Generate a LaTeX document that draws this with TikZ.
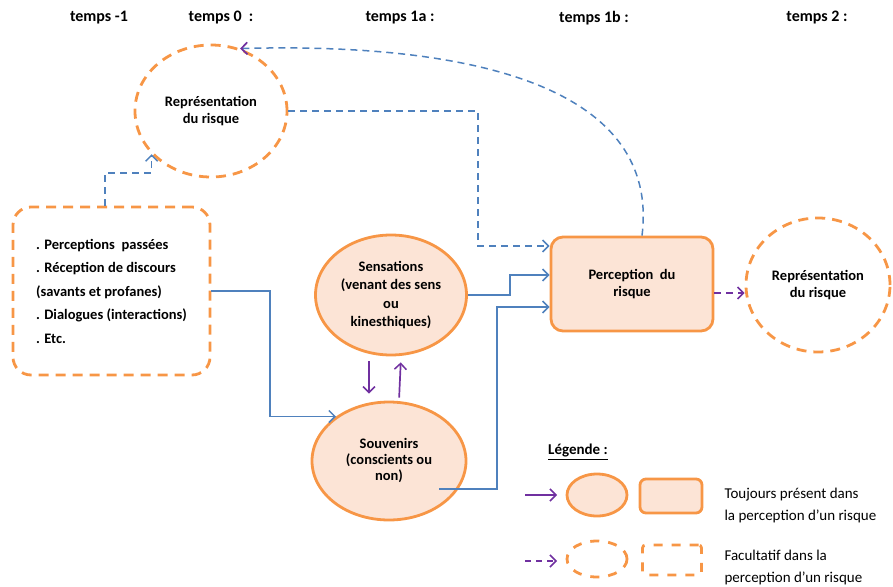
\documentclass[tikz,border=0pt]{standalone}
\usepackage{fontspec}
\setmainfont{Carlito}
\usetikzlibrary{shapes.geometric,arrows.meta}
\definecolor{orng}{HTML}{F79646}
\definecolor{peach}{HTML}{FCE4D6}
\definecolor{blu}{HTML}{4F81BD}
\definecolor{purp}{HTML}{7030A0}
\begin{document}
\begin{tikzpicture}[x=1pt,y=-1pt,
  font=\bfseries\fontsize{14.5}{17}\selectfont,
  odash/.style={dash pattern=on 10pt off 7pt},
  solidell/.style={ellipse, draw=orng, line width=2.8pt, fill=peach, align=center, inner sep=0pt},
  dashell/.style={ellipse, draw=orng, line width=2.8pt, odash, align=center, inner sep=0pt},
  solidbox/.style={rectangle, rounded corners=12pt, draw=orng, line width=2.8pt, fill=peach, align=center, inner sep=0pt},
  dashbox/.style={rectangle, rounded corners=18pt, draw=orng, line width=2.8pt, odash, inner sep=0pt},
  tip/.style={-{Straight Barb[length=6pt,width=12pt,line width=1.5pt]}},
  bline/.style={draw=blu, line width=1.5pt, tip},
  bdash/.style={bline, dash pattern=on 7pt off 5pt},
  pline/.style={draw=purp, line width=1.7pt, tip},
  pdash/.style={pline, dash pattern=on 7pt off 5pt},
  hdr/.style={font=\bfseries\fontsize{16}{18}\selectfont},
  legtxt/.style={font=\fontsize{15}{22}\selectfont, align=left, anchor=west}]
\useasboundingbox (0,0) rectangle (893,586);

% headers
\node[hdr] (h1) at (99,18) {temps -1};
\node[hdr] (h2) at (221,18) {temps 0 \ :};
\node[hdr] (h3) at (400,18) {temps 1a :};
\node[hdr] (h4) at (594,18) {temps 1b :};
\node[hdr] (h5) at (817,18) {temps 2 :};

% nodes
\node[dashell, minimum width=152pt, minimum height=132pt] (rep1) at (211,111) {Représentation\\du risque};
\node[dashbox, minimum width=197pt, minimum height=168pt, align=left, font=\bfseries\fontsize{14.5}{23.5}\selectfont] (lbox) at (111.5,291)
  {. Perceptions \ passées\\. Réception de discours\\(savants et profanes)\\. Dialogues (interactions)\\. Etc.};
\node[solidell, minimum width=151pt, minimum height=120pt, font=\bfseries\fontsize{14.5}{18.5}\selectfont] (sens) at (391,295) {Sensations\\(venant des sens\\ou\\kinesthiques)};
\node[solidell, minimum width=154pt, minimum height=118pt, font=\bfseries\fontsize{14.5}{16}\selectfont] (souv) at (389,461) {Souvenirs\\(conscients ou\\non)};
\node[solidbox, minimum width=162pt, minimum height=94pt] (perc) at (632,284) {Perception \ du\\risque};
\node[dashell, minimum width=144pt, minimum height=134pt] (rep2) at (818,285) {Représentation\\du risque};

% connectors
\coordinate (pA) at ([yshift=38pt]perc.west);
\coordinate (pB) at ([yshift=9pt]perc.west);
\coordinate (pC) at ([yshift=-23pt]perc.west);
\draw[bdash] ([xshift=-6.5pt]lbox.north) |- (rep1.216 |- 0,173) -- (rep1.216);
\draw[bdash] (rep1.east) -| (478,0 |- pA) -- (pA);
\draw[bline] (lbox.east) -| (270,0 |- souv.140) -- (souv.140);
\draw[bline] (sens.east) -| (510,0 |- pB) -- (pB);
\draw[bline] ([xshift=50pt,yshift=-28pt]souv.center) -| (497,0 |- pC) -- (pC);
\draw[draw=blu, line width=1.5pt, dash pattern=on 7pt off 5pt, -{Straight Barb[length=6pt,width=12pt,line width=1.7pt,color=purp]}]
  ([xshift=10pt]perc.north) .. controls (660,90) and (480,42) .. (rep1.65);
\draw[pline, shorten <=5pt, shorten >=7pt] ([xshift=-22pt]sens.south) -- ([xshift=-20pt]souv.north);
\draw[pline, shorten <=3pt, shorten >=6pt] ([xshift=10pt]souv.north) -- ([xshift=10pt]sens.south);
\coordinate (pe) at ([yshift=-9pt]perc.east);
\draw[pdash] (pe) -- (pe -| rep2.west);

% legend
\node[font=\bfseries\fontsize{15}{17}\selectfont] (leg) at (578,452) {\underline{Légende :}};
\coordinate (la1) at (525,495);
\coordinate (la2) at (557,495);
\draw[pline] (la1) -- (la2);
\node[solidell, minimum width=60pt, minimum height=42pt] (le1) at (597,495) {};
\node[solidbox, rounded corners=6pt, minimum width=62pt, minimum height=34pt] (lr1) at (671,496) {};
\node[legtxt] (lt1) at (721,505) {Toujours présent dans\\la perception d’un risque};
\coordinate (lb1) at (525,561);
\coordinate (lb2) at (557,561);
\draw[pdash, dash pattern=on 6pt off 5pt] (lb1) -- (lb2);
\node[dashell, minimum width=60pt, minimum height=36pt, dash pattern=on 9pt off 9pt] (le2) at (597,559) {};
\node[dashbox, rounded corners=3pt, minimum width=59pt, minimum height=30pt, dash pattern=on 9pt off 9pt] (lr2) at (672,560) {};
\node[legtxt] (lt2) at (721,567) {Facultatif dans la\\perception d’un risque};
\end{tikzpicture}
\end{document}
